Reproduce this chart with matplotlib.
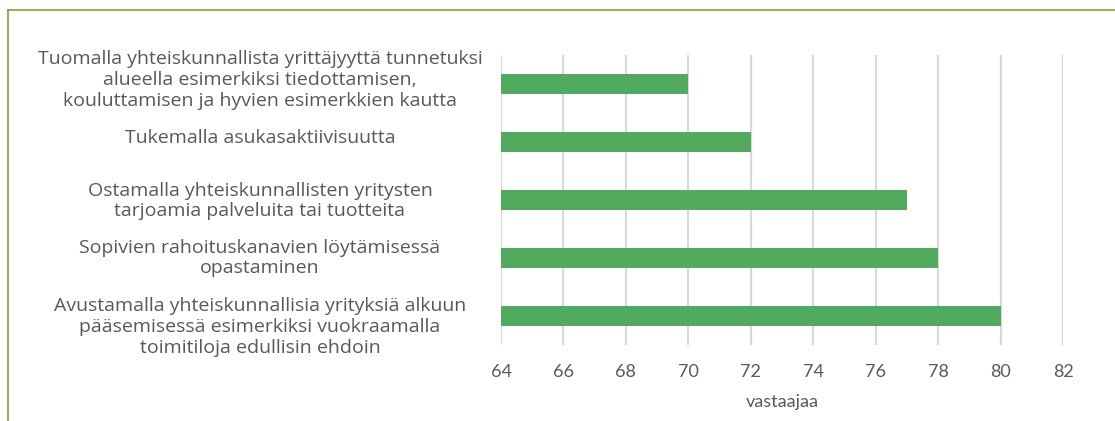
import matplotlib
matplotlib.use("Agg")
import matplotlib.pyplot as plt
import matplotlib.transforms as mtransforms
from matplotlib.lines import Line2D

categories = [
    "Tuomalla yhteiskunnallista yrittäjyyttä tunnetuksi\nalueella esimerkiksi tiedottamisen,\nkouluttamisen ja hyvien esimerkkien kautta",
    "Tukemalla asukasaktiivisuutta",
    "Ostamalla yhteiskunnallisten yritysten\ntarjoamia palveluita tai tuotteita",
    "Sopivien rahoituskanavien löytämisessä\nopastaminen",
    "Avustamalla yhteiskunnallisia yrityksiä alkuun\npääsemisessä esimerkiksi vuokraamalla\ntoimitiloja edullisin ehdoin",
]
values = [70, 72, 77, 78, 80]
xticks = [64, 66, 68, 70, 72, 74, 76, 78, 80, 82]
xlabel = "vastaajaa"

W, H = 1115, 421
fig = plt.figure(figsize=(W / 100, H / 100), dpi=100)
ax = fig.add_axes([501 / W, 1 - 345 / H, (1063 - 501) / W, (345 - 55) / H])

ypos = list(range(len(categories)))[::-1]
ax.barh(ypos, values, height=0.36, color="#52aa5e", zorder=3)
ax.set_xlim(64, 82)
ax.set_ylim(-0.5, len(categories) - 0.5)
ax.set_xticks(xticks)
ax.set_xticklabels([str(t) for t in xticks], fontsize=13, color="#595959", family="Lato")
ax.tick_params(axis="x", length=0, pad=14)
ax.set_yticks([])
ax.grid(axis="x", color="#d9d9d9", linewidth=1.6, zorder=0)
for s in ax.spines.values():
    s.set_visible(False)
ax.set_xlabel(xlabel, fontsize=13, color="#595959", family="Lato", labelpad=10)

# label vertical nudges in pixels (positive = down), as in the reference layout
nudges = [-4, -4, 1, 0, 11]
trans = mtransforms.blended_transform_factory(fig.transFigure, ax.transData)
for y, lab, dy in zip(ypos, categories, nudges):
    tr = mtransforms.offset_copy(trans, fig=fig, x=0, y=-dy, units="dots")
    ax.text(260 / W, y, lab, transform=tr, ha="center", va="center",
            multialignment="center", fontsize=14, color="#595959",
            family="Open Sans", linespacing=1.21, clip_on=False)

# frame lines
fig.add_artist(Line2D([8 / W, 1], [1 - 10 / H, 1 - 10 / H], transform=fig.transFigure,
                      color="#7aa33a", linewidth=1.2))
fig.add_artist(Line2D([8 / W, 8 / W], [0, 1 - 10 / H], transform=fig.transFigure,
                      color="#7aa33a", linewidth=1.2))

fig.savefig("out.png", dpi=100, facecolor="white")
